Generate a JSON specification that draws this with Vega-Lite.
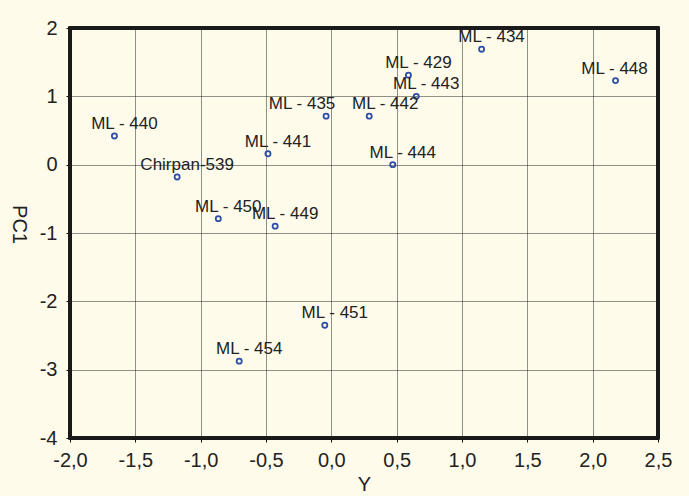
{
  "$schema": "https://vega.github.io/schema/vega-lite/v6.json",
  "width": 588,
  "height": 410,
  "autosize": "none",
  "padding": {"left": 70, "top": 28, "right": 31, "bottom": 58},
  "background": "#fefbea",
  "config": {
    "view": {"stroke": null},
    "font": "Liberation Sans"
  },
  "data": {
    "values": [
      {"name": "ML - 440", "x": -1.66, "y": 0.42},
      {"name": "Chirpan-539", "x": -1.18, "y": -0.18},
      {"name": "ML - 434", "x": 1.15, "y": 1.69},
      {"name": "ML - 429", "x": 0.59, "y": 1.31},
      {"name": "ML - 443", "x": 0.65, "y": 1.0},
      {"name": "ML - 448", "x": 2.175, "y": 1.23},
      {"name": "ML - 435", "x": -0.04, "y": 0.71},
      {"name": "ML - 442", "x": 0.29, "y": 0.71},
      {"name": "ML - 441", "x": -0.485, "y": 0.16},
      {"name": "ML - 444", "x": 0.47, "y": 0.0},
      {"name": "ML - 450", "x": -0.865, "y": -0.79},
      {"name": "ML - 449", "x": -0.43, "y": -0.9},
      {"name": "ML - 454", "x": -0.705, "y": -2.875},
      {"name": "ML - 451", "x": -0.05, "y": -2.35}
    ]
  },
  "encoding": {
    "x": {
      "field": "x", "type": "quantitative",
      "scale": {"domain": [-2, 2.5], "nice": false, "zero": false},
      "axis": {
        "title": "Y",
        "values": [-2, -1.5, -1, -0.5, 0, 0.5, 1, 1.5, 2, 2.5],
        "labelExpr": "replace(replace(format(datum.value, '.1f'), '.', ','), '\u2212', '-')",
        "labelFontSize": 20, "labelColor": "#222222", "labelPadding": 8,
        "labelFlush": false,
        "titleFontSize": 20, "titleFontWeight": "normal", "titleColor": "#222222", "titlePadding": 4,
        "domainColor": "#111111", "domainWidth": 3,
        "tickColor": "#111111", "tickSize": 4, "tickWidth": 1,
        "grid": true, "gridColor": "#222222", "gridDash": [1, 1], "gridWidth": 1, "gridOpacity": 1
      }
    },
    "y": {
      "field": "y", "type": "quantitative",
      "scale": {"domain": [-4, 2], "nice": false, "zero": false},
      "axis": {
        "title": "PC1",
        "values": [-4, -3, -2, -1, 0, 1, 2],
        "labelExpr": "replace(format(datum.value, 'd'), '\u2212', '-')",
        "labelFontSize": 20, "labelColor": "#222222", "labelPadding": 9,
        "labelFlush": false,
        "titleFontSize": 20, "titleFontWeight": "normal", "titleColor": "#222222",
        "titleAngle": 90, "titleX": -52, "titleY": 196, "titleBaseline": "middle", "titleAlign": "center",
        "domainColor": "#111111", "domainWidth": 3,
        "tickColor": "#111111", "tickSize": 4, "tickWidth": 1,
        "grid": true, "gridColor": "#222222", "gridDash": [1, 1], "gridWidth": 1, "gridOpacity": 1
      }
    }
  },
  "layer": [
    {
      "mark": {"type": "rect", "fill": null, "stroke": "#1a1a1a", "strokeWidth": 2.5},
      "encoding": {
        "x": {"datum": -2, "type": "quantitative"},
        "x2": {"datum": 2.5},
        "y": {"datum": -4, "type": "quantitative"},
        "y2": {"datum": 2}
      }
    },
    {
      "mark": {"type": "point", "shape": "circle", "filled": false, "color": "#2d4fa8", "strokeWidth": 1.8, "size": 26, "opacity": 1}
    },
    {
      "transform": [{"filter": "indexof(['ML - 448', 'ML - 435', 'ML - 442'], datum.name) < 0"}],
      "mark": {"type": "text", "fontSize": 17, "color": "#222222", "align": "center", "baseline": "alphabetic", "dx": 10, "dy": -7},
      "encoding": {"text": {"field": "name"}}
    },
    {
      "transform": [{"filter": "datum.name === 'ML - 448'"}],
      "mark": {"type": "text", "fontSize": 17, "color": "#222222", "align": "center", "baseline": "alphabetic", "dx": -1, "dy": -7},
      "encoding": {"text": {"field": "name"}}
    },
    {
      "transform": [{"filter": "datum.name === 'ML - 435'"}],
      "mark": {"type": "text", "fontSize": 17, "color": "#222222", "align": "center", "baseline": "alphabetic", "dx": -24, "dy": -7},
      "encoding": {"text": {"field": "name"}}
    },
    {
      "transform": [{"filter": "datum.name === 'ML - 442'"}],
      "mark": {"type": "text", "fontSize": 17, "color": "#222222", "align": "center", "baseline": "alphabetic", "dx": 16, "dy": -7},
      "encoding": {"text": {"field": "name"}}
    }
  ]
}
